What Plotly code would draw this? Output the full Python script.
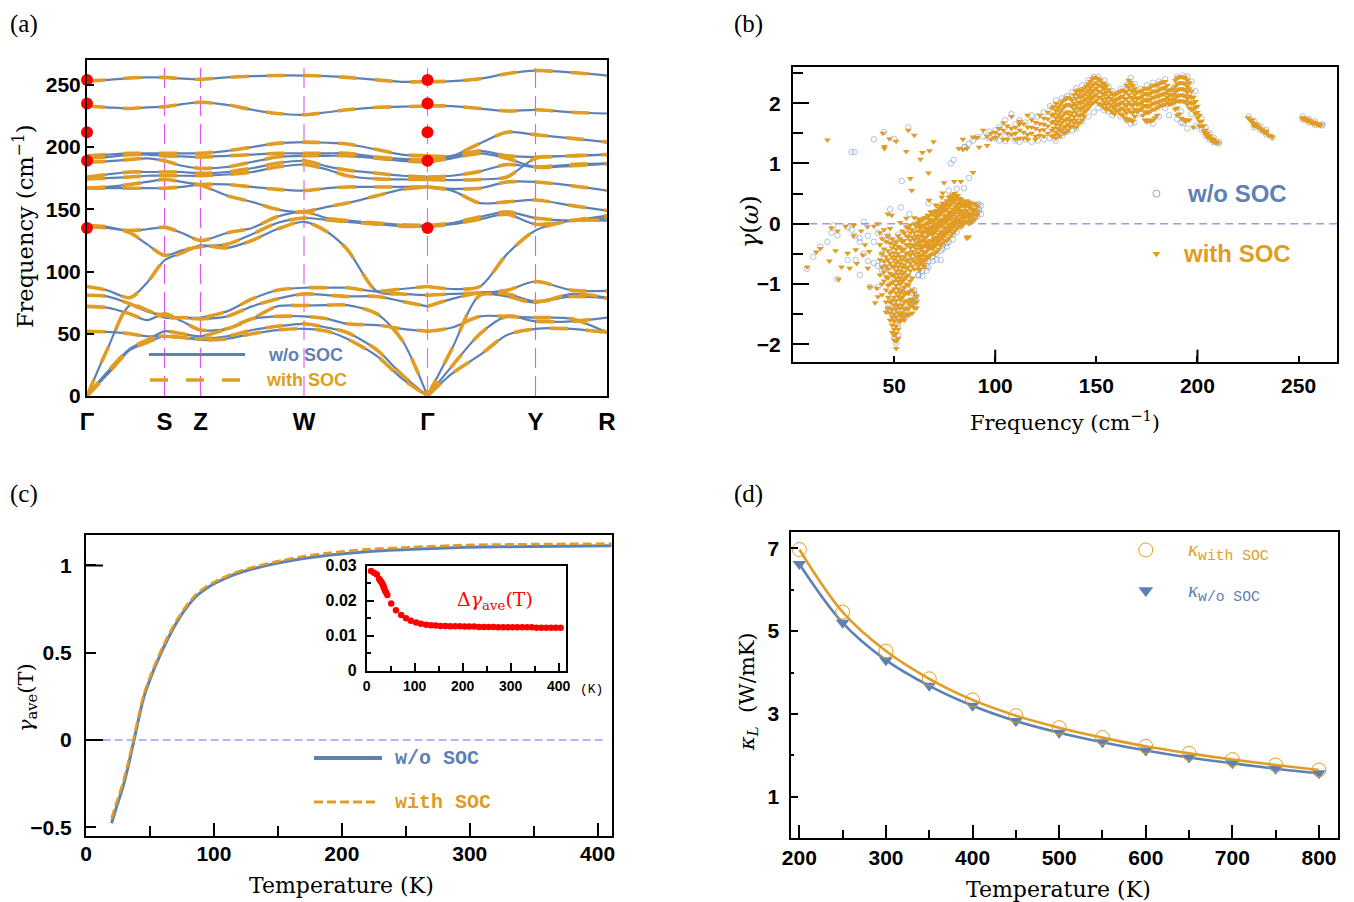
import plotly.graph_objects as go

W, H = 1354, 902
BLUE = "#5E81B5"
ORANGE = "#E19C24"
RED = "#FF0000"
SANS = "Liberation Sans"
SERIF = "DejaVu Serif"
MONO = "Liberation Mono"

# ---------- panel (a): phonon bands ----------
path_k = [0, 20, 43, 60, 77.5, 95, 113.5, 140, 165, 190, 217, 240, 260, 290, 315, 340.5, 365, 393, 420, 448.5, 485, 520]
gamma_index = 15
path_ticks = [0, 77.5, 113.5, 217, 340.5, 448.5, 520]
path_labels = ["Γ", "S", "Z", "W", "Γ", "Y", "R"]
guide_k = [77.5, 113.5, 217, 340.5, 448.5]
guide_colors = ["#E455F5", "#E455F5", "#E9A5F5", "#E070F0", "#C070D8"]
guide_widths = [1.2, 1.2, 2, 1.2, 1.2]
bands = [
    [253,254,255.5,256,256,255,254.5,256,257,257.5,257.5,257,256,254,252.5,252.5,253,255,259,261.5,260,257.5],
    [233,232,231,232,232.5,234.5,236,234,230,227,226,228,230,232,232.5,233,233,231,229,230,228,227],
    [193,194,195,195,195,195,195,197,200,203,204,203.5,202.5,198,194,193,193,203,212,210,207,204],
    [191.5,192,194,194,193,192.5,192,193,194,195,195,195,195,192,190.5,190,192,197,193,192,193,194],
    [188,188.5,190,191,189,185,183,184,188,192,193,193,193,191,189,188,191,195,191,184,185,186.5],
    [176,178,180,180,180,180,179,180,183,187,189,184.5,181.5,179,177,176,177,180.5,186,184,186,187],
    [174.5,175,176,177,177,177,177,178,180,184,186,182,177,174.5,174,174,173.5,174,176,191,193,194],
    [167,168,170,172,174,172,169.5,161,156,150,148,152,155,161,166,168,165,155,156,157.5,153,149],
    [167,167,167,167,167,168,170,170,168,166,165,167,168,168,168,168,166.5,167,172,172,169,165],
    [137,136,131,122,113,117,120,122,130,139,143,141.5,140,138,136.5,136,138,142,146,138,141,145],
    [136,135,133,134,135.5,131,125,131,135,144,148,143,141,139,137.5,137,139,144,148,143,141,143],
    [88,85,79,91,109,115,121,119,125,134,140,132,118,84,82,81,82,83,85,92,85,84.4],
    [0,37,73,69,63,63,63,68,78,85,87,87,87,84,86,88,86,88,114,133,141,141],
    [81,80,74,68,64.5,63,62,64,72,78,82,81,80,80,76,72,78,83,82,76,80,78.6],
    [72,71,66,61,66,60,53,54,62,72,72.7,73,73,66,45,0,38,81,80,75,82,79],
    [0,19,38,45,52,50,48,54,62,64,64,62,58,57,54,52,55,64,64,63,62,51],
    [52,51.5,50,48,48,47,46,48,53,56,58,55,51,37,17,0,24,50,64,60,60,63],
    [0,17,37,43,48,47,45,46,50,53,54,52,46,32,14,0,18,33,49,54,54,51],
]
dot_k = [0, 0, 0, 0, 0, 340.5, 340.5, 340.5, 340.5, 340.5]
dot_freq = [254, 235, 212, 189, 135, 254, 235, 212, 189, 135]

# ---------- panel (b): Grueneisen parameter, (frequency, gamma values) ----------
with_soc_columns = [
    (7,[-.72]),(11.5,[-.47]),(13.5,[-.41]),(17,[1.39]),(18,[-.62]),(19,[-.07]),(21,[-.45]),(22,[-.12]),(22.5,[-.92]),
    (24,[-.72]),(26,[-.04]),(27,[-.49]),(28,[-.74]),(30,[-.03,-.2]),(31,[-.43]),(31.5,[-.66]),(33.7,[-.12]),
    (34.5,[-.52]),(35.6,[-.35]),(36.8,[-.05]),(37,[-.74]),(37.7,[-.46]),(38,[-1.05]),(40,[-.04]),(40.6,[-1.31]),
    (41.4,[-1.07]),(42,[0,-1.21]),(44.4,[1.5]),(45.2,[1.25,1.28]),(46.9,[.16]),(47.7,[1.41]),(48.8,[.14]),(51,[1.37]),
    (53,[.02]),(56,[1.2,.09]),(57,[1.55]),(58,[.75]),(58.7,[.55]),(60,[1.47,.1]),(62,[.08]),(63,[1.07]),(64,[1.18]),
    (67,[.84]),(67.3,[.39]),(67.5,[1.21]),(69.5,[1.36]),(70.6,[.31]),(73.6,[.44]),(74,[.51]),(74.7,[.68]),(79.7,[.7]),
    (83,[.7]),(89,[.85]),
    (43,[-.15,-.35,-.6,-.85]),(44,[-.25,-.5,-.72,-1.0,-1.18]),(45,[-.1,-.42,-.62,-.8,-.95]),
    (46,[-.3,-.55,-.7,-.88,-1.1,-1.3,-1.47]),(47,[-.2,-.45,-.6,-.75,-.9,-1.02,-1.22,-1.4]),
    (48,[-.08,-.32,-.5,-.65,-.82,-1.0,-1.15,-1.3,-1.48,-1.6]),
    (49,[-.25,-.4,-.55,-.7,-.85,-.98,-1.12,-1.28,-1.42,-1.55,-1.68,-1.8]),
    (50,[-.35,-.48,-.6,-.72,-.85,-.95,-1.08,-1.22,-1.35,-1.5,-1.62,-1.75,-1.85,-1.93]),
    (51,[-.3,-.42,-.55,-.66,-.78,-.9,-1.02,-1.15,-1.28,-1.42,-1.55,-1.7,-1.82,-1.95,-2.07]),
    (52,[-.2,-.38,-.5,-.62,-.72,-.84,-.96,-1.08,-1.2,-1.35,-1.48,-1.6,-1.75,-1.9]),
    (53,[-.25,-.4,-.55,-.66,-.78,-.9,-1.0,-1.14,-1.26,-1.4,-1.52,-1.62]),
    (54,[-.12,-.3,-.45,-.6,-.72,-.84,-.95,-1.1,-1.22,-1.35,-1.48,-1.58]),
    (55,[-.15,-.28,-.42,-.55,-.68,-.8,-.92,-1.05,-1.18,-1.3,-1.42,-1.55,-1.6]),
    (56,[-.05,-.2,-.35,-.5,-.62,-.74,-.88,-1.0,-1.14,-1.28,-1.4,-1.5]),
    (57,[-.08,-.22,-.35,-.48,-.6,-.72,-.85,-1.02,-1.16,-1.3,-1.42,-1.52]),
    (58,[-.02,-.15,-.28,-.4,-.52,-.65,-.78,-.95,-1.12,-1.26,-1.36,-1.5]),
    (59,[-.1,-.22,-.35,-.46,-.58,-.7,-.9,-1.1,-1.25,-1.35,-1.48]),
    (60,[0,-.14,-.26,-.38,-.5,-.62,-.75,-1.15,-1.3,-1.4]),(61,[-.05,-.2,-.32,-.42,-.55,-.66,-1.2,-1.3,-1.4]),
    (62,[.02,-.12,-.24,-.36,-.48,-.6,-.7,-.76]),(63,[.05,-.08,-.2,-.3,-.42,-.54,-.66,-.75]),
    (64,[.06,-.04,-.16,-.28,-.4,-.52,-.64]),(65,[.1,-.02,-.12,-.24,-.36,-.48,-.6,-.72]),
    (66,[.1,0,-.1,-.22,-.34,-.46,-.6]),(67,[.12,.02,-.08,-.18,-.3,-.42,-.55]),(68,[.2,.06,-.05,-.16,-.28,-.4,-.52]),
    (69,[.15,.04,-.06,-.18,-.3,-.42,-.5]),(70,[.18,.06,-.04,-.14,-.26,-.38,-.5]),(71,[.22,.1,0,-.1,-.22,-.34,-.46]),
    (72,[.26,.14,.04,-.06,-.18,-.3,-.42]),(73,[.3,.16,.06,-.04,-.14,-.26,-.36]),(74,[.34,.2,.08,-.02,-.12,-.22,-.32]),
    (75,[.3,.22,.12,.02,-.08,-.2,-.28]),(76,[.38,.24,.14,.04,-.06,-.16,-.28]),(77,[.44,.28,.18,.08,-.02,-.12,-.24]),
    (78,[.46,.32,.2,.1,0,-.1,-.2]),(79,[.48,.36,.24,.14,.04,-.06,-.16]),(80,[.5,.38,.28,.18,.08,-.02,-.12]),
    (81,[.42,.32,.22,.12,.02,-.08]),(82,[.42,.34,.26,.16,.06,-.04]),(83,[.4,.32,.22,.12,.04,-.04]),
    (84,[.36,.3,.2,.1,.02,-.02]),(85,[.36,.28,.18,.1,.02]),(86,[.38,.3,.22,.12,.04,-.22,-.24]),
    (87,[.36,.28,.18,.1,0,-.22]),(88,[.34,.26,.16,.08,.02]),(89,[.34,.22,.14,.06]),(90,[.32,.24,.16,.08]),(91,[.3,.2,.14]),
    (82,[1.25]),(84,[1.4,1.23]),(86,[1.25]),(89,[1.44]),(91,[1.43]),(92,[1.27]),(94,[1.55]),(96,[1.3,1.45]),(98,[1.4,1.5]),
    (100,[1.43,1.52]),(102,[1.58,1.48]),(104,[1.67,1.55,1.4]),(106,[1.62,1.5,1.4]),(108,[1.78,1.58,1.48]),
    (110,[1.6,1.5,1.4]),(112,[1.7,1.65,1.55,1.42]),(114,[1.66,1.52,1.42]),(116,[1.8,1.6,1.48,1.4]),(118,[1.72,1.6,1.5]),
    (120,[1.68,1.58,1.45,1.4]),(122,[1.8,1.66,1.55,1.47]),(124,[1.75,1.65,1.56,1.45]),(126,[1.85,1.74,1.62,1.5]),
    (128,[1.92,1.8,1.68,1.55,1.45]),(130,[2.0,1.88,1.76,1.65,1.52,1.42]),(132,[1.98,1.86,1.75,1.64,1.55,1.45]),
    (134,[2.05,1.94,1.82,1.72,1.6,1.5]),(136,[2.1,1.98,1.86,1.75,1.65,1.55]),(138,[2.05,1.95,1.84,1.72,1.62]),
    (140,[2.2,2.08,1.96,1.85,1.72,1.6]),(142,[2.2,2.1,2.0,1.9,1.8,1.68]),(144,[2.25,2.15,2.05,1.95,1.85,1.78]),
    (146,[2.32,2.22,2.12,2.02,1.92]),(148,[2.4,2.3,2.2,2.1,2.0]),(150,[2.42,2.34,2.25,2.15,2.05]),
    (152,[2.38,2.3,2.2,2.1,1.98]),(154,[2.32,2.24,2.14,2.02,1.92]),(156,[2.22,2.12,2.02,1.92]),(158,[2.15,2.05,1.95,1.85]),
    (160,[2.16,2.06,1.96,1.88]),(162,[2.2,2.1,2.0,1.9,1.82]),(164,[2.18,2.08,1.98,1.88,1.76]),
    (166,[2.38,2.26,2.14,2.02,1.9,1.74]),(168,[2.3,2.2,2.08,1.96,1.84,1.7]),(170,[2.18,2.08,1.98,1.86]),
    (172,[2.2,2.1,2.0,1.9]),(174,[2.25,2.16,2.06,1.96,1.86,1.72]),(176,[2.25,2.15,2.05,1.95,1.85,1.72]),
    (178,[2.3,2.2,2.1,2.0,1.9,1.72]),(180,[2.3,2.2,2.12,2.02,1.92,1.8]),(182,[2.34,2.24,2.14,2.04,1.96]),
    (184,[2.36,2.26,2.16,2.06,1.98]),(186,[2.22,2.14,2.06,1.98]),(188,[2.24,2.14,2.06,2.0]),
    (190,[2.42,2.32,2.22,2.12,2.04,1.92,1.8]),(192,[2.44,2.34,2.24,2.14,2.04,1.75]),(194,[2.42,2.32,2.22,2.12,2.02,1.7]),
    (196,[2.34,2.24,2.12,2.02,1.92,1.72]),(198,[2.1,2.0,1.9,1.6]),(200,[1.95,1.85,1.76]),(201,[1.8,1.7,1.62]),
    (202,[1.7,1.62]),(203,[1.62,1.54]),(204,[1.55,1.48]),(205,[1.5,1.44]),(206,[1.46,1.42]),(207,[1.42,1.38]),
    (208,[1.4,1.36]),(209,[1.37,1.35]),(210,[1.34]),
    (225,[1.76]),(226,[1.72]),(227,[1.68,1.72]),(228,[1.66,1.62]),(229,[1.62,1.66]),(230,[1.6,1.62]),(231,[1.58]),
    (232,[1.56,1.54]),(233,[1.52]),(234,[1.5,1.54]),(235,[1.47]),(236,[1.46]),(237,[1.44]),
    (252,[1.76,1.74]),(253,[1.75,1.73]),(254,[1.74,1.71]),(255,[1.72,1.7]),(256,[1.7,1.68]),(257,[1.69,1.67]),
    (258,[1.68,1.66]),(259,[1.66,1.65]),(260,[1.65,1.63]),(261,[1.64]),
    # denser readings of the solid parts of the cloud
    (62.5,[-.03,-.3,-.54,-.77]),(63.5,[-.14,-.36,-.6]),(64.5,[.08,-.22,-.46,-.68]),(65.5,[-.07,-.3,-.54]),(66.5,[.14,-.15,-.4]),
    (67.5,[.07,-.13,-.36]),(68.5,[-.11,-.35]),(69.5,[.2,-.01,-.24]),(70.5,[.12,-.09,-.32]),(71.5,[.16,-.05,-.28]),
    (72.5,[.2,-.01,-.24]),(73.5,[.25,.01,-.2]),(74.5,[.27,.03,-.17]),(75.5,[.34,.07,-.14]),(76.5,[.31,.09,-.11]),
    (77.5,[.38,.13,-.07]),(78.5,[.41,.15,-.05]),(79.5,[.42,.19,-.01]),(80.5,[.44,.23,.03]),(81.5,[.47,.27,.07]),
    (82.5,[.38,.21,.01]),(83.5,[.36,.17,-.01]),(84.5,[.33,.15]),(85.5,[.33,.15]),(86.5,[.33,.17]),(87.5,[.31,.13]),
    (129,[1.94,1.82,1.7,1.59,1.47]),(131,[1.93,1.81,1.7,1.58,1.48]),(133,[2.02,1.9,1.78,1.68,1.56]),(135,[2.07,1.96,1.84,1.72,1.62,1.52]),
    (137,[2.08,1.96,1.8,1.7,1.6]),(139,[2.14,2.0,1.9,1.78,1.67]),(141,[2.22,2.14,2.02,1.92,1.8,1.66]),(143,[2.22,2.12,2.02,1.92,1.82,1.72]),
    (145,[2.28,2.18,2.08,1.98,1.88]),(147,[2.36,2.26,2.16,2.06,1.96]),(149,[2.43,2.32,2.22,2.12,2.02]),(151,[2.4,2.3,2.2,2.1,2.0]),
    (153,[2.34,2.26,2.16,2.06,1.96]),(155,[2.28,2.18,2.08,1.98,1.89]),(157,[2.18,2.08,1.98,1.88]),(159,[2.14,2.02,1.92,1.82]),
    (161,[2.18,2.08,1.98,1.88]),(163,[2.22,2.12,2.02,1.92,1.8]),(165,[2.3,2.2,2.08,1.96,1.84,1.72]),(167,[2.34,2.22,2.1,1.98,1.86,1.72]),
    (169,[2.24,2.14,2.02,1.9,1.78]),(171,[2.19,2.09,1.99,1.88]),(173,[2.22,2.13,2.03,1.93,1.8]),(175,[2.24,2.14,2.04,1.94,1.84,1.7]),
    (177,[2.27,2.17,2.07,1.97,1.87,1.7]),(179,[2.3,2.2,2.1,2.0,1.9,1.76]),(181,[2.32,2.22,2.12,2.02,1.94]),(183,[2.35,2.25,2.15,2.05,1.97]),
    (185,[2.3,2.2,2.1,2.02]),(187,[2.22,2.14,2.06,1.99]),(189,[2.38,2.28,2.18,2.09,2.02,1.9]),(191,[2.43,2.33,2.23,2.13,2.03,1.82]),
    (193,[2.43,2.33,2.23,2.13,2.03,1.73]),(195,[2.38,2.28,2.18,2.08,1.98,1.72]),(197,[2.2,2.1,2.0,1.9]),(199,[2.03,1.93,1.83]),
]
without_soc_columns = [
    (6.8,[-.75]),(10,[-.55]),(13.5,[-.38]),(17,[-.3]),(19,[-.15]),(20,[-.03]),(22,[-.19,-.92]),(27,[-.06,-.6]),(29,[1.19,-.1]),
    (30.5,[1.19,-.2]),(31,[-.6]),(33,[-.3,-.24,-.85]),(35,[.03,-.5]),(37,[-.62,-.2]),(38,[-1.05]),(40,[1.4,-.65,-.3]),
    (42,[-.7,-1.05,-.15]),(44,[-.68,-.78,-.5]),(45,[1.52,-.72,-.22]),(47,[-.2,-.66,-1.4,-1.45]),(48,[.24,-.72,-1.28,-.3]),
    (50,[1.41,-1.36,-1.55,-1.9,-.45]),(51,[-1.42,-1.6,-1.98,-.3,-.85]),(52,[-1.3,-1.7,-1.85,-.18]),(53.3,[.27,-1.5,-.92]),
    (53.8,[.71,-1.2,-1.1]),(55,[-1.55,-1.48,-.78]),(57,[1.6,-.9,-1.08,-1.38]),(57.6,[.16,-1.28,-.58]),(59,[-1.15,-1.28,-1.32]),
    (60,[-1.25,-1.33,-1.3,-1.1]),(61,[-1.28,-1.2]),(62,[-.85,-.86]),(64,[-.87,-.78,-.65]),(66,[-.78,-.7]),(67,[.34,-.72,-.62]),
    (69,[-.62,-.55]),(71,[-.6,-.5]),(73,[-.6,-.45]),(74,[-.42,-.36]),(76,[-.32,-.38]),(77,[.55,-.3]),(79,[-.26,-.18]),
    (78,[1.0]),(79.4,[1.06]),(81,[-.14,.58]),(83,[-.05,.4]),(84.6,[.59,1.27]),(85,[1.27]),(87,[.76,1.33]),(89,[.1,1.38,.05]),
    (91,[.12,.2,.32,1.44]),(92,[.2,.32,.24]),(93,[.3,.16]),(94,[1.45]),(97,[1.53,1.42]),(100,[1.55,1.42]),(102,[1.6,1.38]),
    (105,[1.72,1.45,1.37]),(108,[1.82,1.44]),(110,[1.65,1.38]),(112,[1.72,1.36]),(115,[1.68,1.4]),(118,[1.8,1.36]),
    (121,[1.78,1.38]),(124,[1.85,1.4]),(127,[1.95,1.42]),(130,[2.05,1.38]),(133,[2.08,1.46]),(135.5,[1.53,2.12]),
    (138,[2.18,1.55]),(140,[2.25,1.58]),(143,[2.3,1.7]),(146,[2.38,1.78]),(148.7,[2.44,1.85]),(151,[2.44,1.92]),
    (154,[2.38,1.88]),(156,[2.28,1.86]),(158,[2.2,1.8]),(162,[2.24,1.78]),(165,[2.3,1.72]),(167,[2.42,1.66]),(169,[2.32,1.68]),
    (172,[2.24,1.82]),(175,[2.3,1.7]),(178,[2.34,1.66]),(181,[2.36,1.78]),(184,[2.4,1.92]),(186,[2.26,1.8]),(190,[2.44,1.74]),
    (192,[1.86,1.68]),(193,[2.46,1.67]),(195,[2.44,1.58]),(197,[2.36,1.82]),(199,[2.2,1.62]),(202,[1.74,1.56]),(204,[1.6,1.46]),
    (206,[1.5,1.4]),(208,[1.43,1.35]),(210.6,[1.33,1.36]),(225.4,[1.78]),(228,[1.7,1.6]),(231,[1.62,1.56]),(234,[1.56,1.48]),
    (237,[1.43]),(252,[1.78,1.73]),(255,[1.74,1.68]),(258,[1.7,1.64]),(261.7,[1.63,1.65]),
]
legend_b_freq = [179.7, 179.7]
legend_b_gamma = [0.5, -0.5]

# ---------- panel (c): average gamma ----------
temperature_c = [20, 24, 29, 33, 37, 41, 45, 51, 58, 64, 71, 78, 86, 94, 102, 115, 128, 141, 154, 170, 191, 219, 255, 297, 350, 411]
gamma_without = [-.477, -.38, -.267, -.15, -.019, .115, .24, .365, .487, .58, .675, .752, .822, .868, .902, .945, .975, 1.0, 1.02, 1.04, 1.06, 1.079, 1.092, 1.104, 1.109, 1.113]
gamma_with = [-.449, -.354, -.243, -.128, .001, .133, .257, .381, .502, .594, .688, .764, .834, .879, .912, .955, .985, 1.01, 1.03, 1.053, 1.073, 1.092, 1.105, 1.117, 1.122, 1.125]
inset_temperature = [9, 15, 21, 26, 28, 30, 32, 34, 35, 36, 38, 40, 43, 51, 61, 72, 82, 92, 103, 113, 124, 134, 144, 154, 164, 174, 184, 194, 204, 214, 224, 234, 244, 254, 264, 274, 284, 294, 304, 314, 324, 334, 344, 354, 364, 374, 384, 394, 404]
inset_delta = [.0285, .028, .0275, .0262, .0258, .0254, .025, .0245, .024, .0237, .023, .0224, .0216, .0192, .0173, .0159, .015, .0143, .0138, .0134, .0131, .013, .0129, .0128, .0128, .0127, .0127, .0127, .0126, .0126, .0126, .0125, .0125, .0125, .0125, .0124, .0124, .0124, .0124, .0124, .0124, .0124, .0124, .0123, .0123, .0123, .0123, .0123, .0123]

# ---------- panel (d): thermal conductivity ----------
temperature_d = [200, 250, 300, 350, 400, 450, 500, 550, 600, 650, 700, 750, 800]
kappa_with = [6.97, 5.46, 4.52, 3.85, 3.34, 2.96, 2.67, 2.43, 2.22, 2.05, 1.90, 1.77, 1.65]
kappa_without = [6.62, 5.20, 4.30, 3.68, 3.20, 2.83, 2.55, 2.32, 2.12, 1.95, 1.81, 1.68, 1.57]
legend_d_t = [600]
legend_d_with = [6.96]
legend_d_without = [5.98]


def xdom(a, b):
    return [a / W, b / W]


def ydom(top, bottom):
    return [1 - bottom / H, 1 - top / H]


def axis(dom, rng, **kw):
    base = dict(domain=dom, range=rng, showgrid=False, zeroline=False, showline=True, linecolor="black",
                linewidth=2, mirror=True, ticks="inside", tickcolor="black", tickwidth=2,
                tickfont=dict(family=SANS, size=21, color="black", weight="bold"))
    base.update(kw)
    return base


def flatten(columns):
    xs, ys = [], []
    for f, vals in columns:
        for v in vals:
            xs.append(f)
            ys.append(v)
    return xs, ys


fig = go.Figure()

# panel a traces
for band in bands:
    for lo, hi in ((0, gamma_index + 1), (gamma_index, len(path_k))):
        fig.add_trace(go.Scatter(x=path_k[lo:hi], y=band[lo:hi], mode="lines", xaxis="x", yaxis="y",
                                 line=dict(color=BLUE, width=2.2, shape="spline", smoothing=0.8)))
for band in bands:
    for lo, hi in ((0, gamma_index + 1), (gamma_index, len(path_k))):
        fig.add_trace(go.Scatter(x=path_k[lo:hi], y=band[lo:hi], mode="lines", xaxis="x", yaxis="y",
                                 line=dict(color=ORANGE, width=3.6, dash="18px,18px", shape="spline", smoothing=0.8)))
fig.add_trace(go.Scatter(x=dot_k, y=dot_freq, mode="markers", xaxis="x", yaxis="y", cliponaxis=False,
                         marker=dict(color=RED, size=12)))

# panel b traces
bx, by = flatten(without_soc_columns)
ox, oy = flatten(with_soc_columns)
fig.add_trace(go.Scatter(x=bx, y=by, mode="markers", xaxis="x2", yaxis="y2",
                         marker=dict(symbol="circle-open", size=5.5, color="rgba(94,129,181,0.6)", line=dict(width=0.8))))
fig.add_trace(go.Scatter(x=ox, y=oy, mode="markers", xaxis="x2", yaxis="y2",
                         marker=dict(symbol="triangle-down", size=6, color=ORANGE)))
fig.add_trace(go.Scatter(x=legend_b_freq[:1], y=legend_b_gamma[:1], mode="markers", xaxis="x2", yaxis="y2",
                         marker=dict(symbol="circle-open", size=7, color="rgba(94,129,181,0.7)", line=dict(width=1))))
fig.add_trace(go.Scatter(x=legend_b_freq[1:], y=legend_b_gamma[1:], mode="markers", xaxis="x2", yaxis="y2",
                         marker=dict(symbol="triangle-down", size=7, color=ORANGE)))

# panel c traces
fig.add_trace(go.Scatter(x=temperature_c, y=gamma_without, mode="lines", xaxis="x3", yaxis="y3",
                         line=dict(color=BLUE, width=3, shape="spline", smoothing=0.6)))
fig.add_trace(go.Scatter(x=temperature_c, y=gamma_with, mode="lines", xaxis="x3", yaxis="y3",
                         line=dict(color=ORANGE, width=2.6, dash="9px,4px", shape="spline", smoothing=0.6)))
fig.add_trace(go.Scatter(x=inset_temperature, y=inset_delta, mode="markers", xaxis="x4", yaxis="y4",
                         cliponaxis=False, marker=dict(color=RED, size=6.5)))

# panel d traces
fig.add_trace(go.Scatter(x=temperature_d, y=kappa_without, mode="markers", xaxis="x5", yaxis="y5",
                         marker=dict(symbol="triangle-down", size=12, color=BLUE)))
fig.add_trace(go.Scatter(x=temperature_d, y=kappa_without, mode="lines", xaxis="x5", yaxis="y5",
                         line=dict(color=BLUE, width=2.6, shape="spline")))
fig.add_trace(go.Scatter(x=temperature_d, y=kappa_with, mode="lines", xaxis="x5", yaxis="y5",
                         line=dict(color=ORANGE, width=2.6, shape="spline")))
fig.add_trace(go.Scatter(x=temperature_d, y=kappa_with, mode="markers", xaxis="x5", yaxis="y5", cliponaxis=False,
                         marker=dict(symbol="circle-open", size=14, color=ORANGE, line=dict(width=1))))
fig.add_trace(go.Scatter(x=legend_d_t, y=legend_d_with, mode="markers", xaxis="x5", yaxis="y5",
                         marker=dict(symbol="circle-open", size=14, color=ORANGE, line=dict(width=1))))
fig.add_trace(go.Scatter(x=legend_d_t, y=legend_d_without, mode="markers", xaxis="x5", yaxis="y5",
                         marker=dict(symbol="triangle-down", size=13, color=BLUE)))

shapes = []
for k, col, wd in zip(guide_k, guide_colors, guide_widths):
    shapes.append(dict(type="line", xref="x", yref="y domain", x0=k, x1=k, y0=0, y1=1, layer="below",
                       line=dict(color=col, width=wd, dash="20px,8px")))


def page_line(x0, x1, y, color, width, dash="solid"):
    shapes.append(dict(type="line", xref="paper", yref="paper", x0=x0 / W, x1=x1 / W, y0=1 - y / H, y1=1 - y / H,
                       line=dict(color=color, width=width, dash=dash)))


page_line(149, 245, 354.5, BLUE, 3)
page_line(150, 240, 380, ORANGE, 3.4, "18px,18px")
page_line(314, 382, 758, BLUE, 4)
page_line(314, 379, 802, ORANGE, 3, "9px,4px")

# zero lines
shapes.append(dict(type="line", xref="x2", yref="y2", x0=8, x1=269, y0=0, y1=0, layer="below",
                   line=dict(color="#9A9AEE", width=1.5, dash="8px,5px")))
shapes.append(dict(type="line", xref="x3", yref="y3", x0=13, x1=405, y0=0, y1=0, layer="below",
                   line=dict(color="#6A6AFF", width=1, dash="8px,4px")))


def long_xtick(xref, yref, value, frac):
    shapes.append(dict(type="line", xref=xref, yref=yref + " domain", x0=value, x1=value, y0=0, y1=frac,
                       line=dict(color="black", width=2)))


def long_ytick(xref, yref, value, frac):
    shapes.append(dict(type="line", xref=xref + " domain", yref=yref, y0=value, y1=value, x0=0, x1=frac,
                       line=dict(color="black", width=2)))


for v in (100, 200):
    long_xtick("x2", "y2", v, 12 / 295)
for v in (0, 1):
    long_ytick("x3", "y3", v, 17 / 526)

anns = []


def note(px, py, text, size, color="black", family=SERIF, angle=0, anchor="center", weight="normal"):
    anns.append(dict(xref="paper", yref="paper", x=px / W, y=1 - py / H, text=text, showarrow=False,
                     xanchor=anchor, yanchor="middle", textangle=angle,
                     font=dict(family=family, size=size, color=color, weight=weight)))


for label, x, y in (("(a)", 8, 24), ("(b)", 732, 24), ("(c)", 8, 494), ("(d)", 732, 494)):
    note(x, y, label, 25, family="Liberation Serif", anchor="left")
note(24, 226, "Frequency (cm<sup>−1</sup>)", 22.5, angle=-90)
note(1065, 421, "Frequency (cm<sup>−1</sup>)", 21)
note(750, 222, "<i>γ</i>(<i>ω</i>)", 24, angle=-90)
note(27, 698, "<i>γ</i><sub>ave</sub>(T)", 21, angle=-90)
note(341, 885, "Temperature (K)", 22)
note(1058, 889, "Temperature (K)", 22)
note(748, 692, "<i>κ<sub>L</sub></i>  (W/mK)", 21, angle=-90)
note(305, 355, "w/o SOC", 18, BLUE, SANS, weight="bold")
note(306, 380, "with SOC", 18, ORANGE, SANS, weight="bold")
note(1237, 193, "w/o SOC", 24, BLUE, SANS, weight="bold")
note(1237, 253, "with SOC", 24, ORANGE, SANS, weight="bold")
note(393, 758, "w/o SOC", 20, BLUE, MONO, anchor="left", weight="bold")
note(393, 802, "with SOC", 20, ORANGE, MONO, anchor="left", weight="bold")
note(495, 600, "Δ<i>γ</i><sub>ave</sub>(T)", 19, RED, SERIF)
note(591, 689, "(K)", 13, "black", MONO)
note(1186, 550, '<i>κ</i><sub><span style="font-family:Liberation Mono">with SOC</span></sub>', 21, ORANGE, "Liberation Serif", anchor="left")
note(1186, 591, '<i>κ</i><sub><span style="font-family:Liberation Mono">w/o SOC</span></sub>', 21, BLUE, "Liberation Serif", anchor="left")

fig.update_layout(
    width=W, height=H, autosize=False, showlegend=False, paper_bgcolor="white", plot_bgcolor="white",
    margin=dict(l=0, r=0, t=0, b=0, pad=0, autoexpand=False), shapes=shapes, annotations=anns,
    xaxis=axis(xdom(87, 607), [0, 520], tickvals=path_ticks, ticktext=path_labels, ticks="",
               ticklabelstandoff=3, tickfont=dict(family=SANS, size=24, color="black", weight="bold")),
    yaxis=axis(ydom(60, 396), [0, 270], tickvals=[0, 50, 100, 150, 200, 250], ticklen=7, anchor="x"),
    xaxis2=axis(xdom(793, 1337), [0, 269], anchor="y2", tickvals=[50, 100, 150, 200, 250], ticklen=6,
                ticklabelstandoff=4),
    yaxis2=axis(ydom(66.7, 361.7), [-2.29, 2.606], anchor="x2", tickvals=[-2, -1, 0, 1, 2], ticklen=16,
                ticklabelstandoff=6,
                minor=dict(tickvals=[-1.5, -.5, .5, 1.5, 2.5], ticks="inside", ticklen=10, tickwidth=2, tickcolor="black")),
    xaxis3=axis(xdom(86, 611.7), [0, 411], anchor="y3", tickvals=[0, 100, 200, 300, 400], ticklen=13,
                ticklabelstandoff=-2,
                minor=dict(tickvals=[50, 150, 250, 350], ticks="inside", ticklen=10, tickwidth=2, tickcolor="black")),
    yaxis3=axis(ydom(534.7, 836), [-.55, 1.176], anchor="x3", tickvals=[-.5, 0, .5, 1],
                ticktext=["−0.5", "0", "0.5", "1"], ticklen=10, ticklabelstandoff=8),
    xaxis4=axis(xdom(366.7, 565.7), [0, 414.6], anchor="y4", tickvals=[0, 100, 200, 300, 400], ticklen=8, linewidth=1.5,
                tickwidth=1.5, tickfont=dict(family=SANS, size=14, color="black", weight="bold"), ticklabelstandoff=2,
                minor=dict(tickvals=[50, 150, 250, 350], ticks="inside", ticklen=5, tickwidth=1.5, tickcolor="black")),
    yaxis4=axis(ydom(565.7, 670.7), [0, .03], anchor="x4", tickvals=[0, .01, .02, .03],
                ticktext=["0", "0.01", "0.02", "0.03"], ticklen=8, linewidth=1.5, tickwidth=1.5,
                tickfont=dict(family=SANS, size=16, color="black", weight="bold"), ticklabelstandoff=5,
                minor=dict(tickvals=[.005, .015, .025], ticks="inside", ticklen=5, tickwidth=1.5, tickcolor="black")),
    xaxis5=axis(xdom(791.4, 1338.4), [190.8, 822.4], anchor="y5", tickvals=[200, 300, 400, 500, 600, 700, 800], ticklen=13,
                ticklabelstandoff=-1,
                minor=dict(tickvals=[250, 350, 450, 550, 650, 750], ticks="inside", ticklen=8, tickwidth=2, tickcolor="black")),
    yaxis5=axis(ydom(531.7, 838.3), [0, 7.4], anchor="x5", tickvals=[1, 3, 5, 7], ticklen=7, ticklabelstandoff=6,
                minor=dict(tickvals=[2, 4, 6], ticks="inside", ticklen=3, tickwidth=2, tickcolor="black")),
)

fig.write_html("out.html", config=dict(displayModeBar=False), post_script="document.body.style.margin='0';")
